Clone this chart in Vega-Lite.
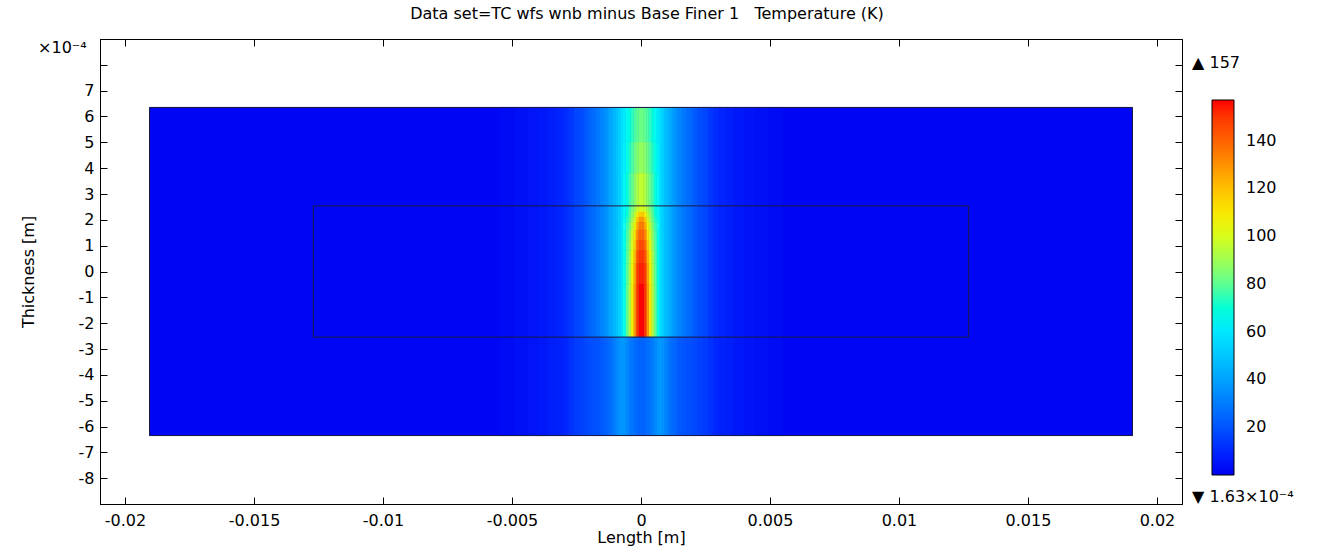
{
  "$schema": "https://vega.github.io/schema/vega-lite/v6.json",
  "width": 1082,
  "height": 465,
  "autosize": {"type": "none"},
  "padding": {"left": 100, "top": 39, "right": 138, "bottom": 44},
  "background": "white",
  "config": {
    "view": {"stroke": "black", "strokeWidth": 1},
    "font": "DejaVu Sans",
    "axis": {
      "grid": false,
      "domainColor": "black",
      "tickColor": "black",
      "labelColor": "black",
      "titleColor": "black",
      "labelFont": "DejaVu Sans",
      "titleFont": "DejaVu Sans",
      "labelFontSize": 16,
      "titleFontSize": 16,
      "titleFontWeight": "normal",
      "tickSize": -7,
      "labelOverlap": false,
      "labelFlush": false
    }
  },
  "title": {
    "text": "Data set=TC wfs wnb minus Base Finer 1\u00a0\u00a0\u00a0Temperature (K)",
    "font": "DejaVu Sans",
    "fontSize": 16,
    "fontWeight": "normal",
    "color": "black",
    "anchor": "middle",
    "offset": 17,
    "dx": 6
  },
  "datasets": {
    "cells": [
      {"x": -0.01905, "x2": 0.01905, "y": -6.35, "y2": 6.35, "t": 1},

      {"x": 0.0049, "x2": 0.0055, "y": -6.35, "y2": 6.35, "t": 2},
      {"x": 0.0044, "x2": 0.0049, "y": -6.35, "y2": 6.35, "t": 3},
      {"x": 0.004, "x2": 0.0044, "y": -6.35, "y2": 6.35, "t": 4},
      {"x": 0.0036, "x2": 0.004, "y": -6.35, "y2": 6.35, "t": 5},
      {"x": 0.0033, "x2": 0.0036, "y": -6.35, "y2": 6.35, "t": 7},
      {"x": 0.003, "x2": 0.0033, "y": -2.54, "y2": 6.35, "t": 9},
      {"x": 0.003, "x2": 0.0033, "y": -6.35, "y2": -2.54, "t": 8},
      {"x": 0.0028, "x2": 0.003, "y": -2.54, "y2": 6.35, "t": 11},
      {"x": 0.0028, "x2": 0.003, "y": -6.35, "y2": -2.54, "t": 10},
      {"x": 0.0026, "x2": 0.0028, "y": -2.54, "y2": 6.35, "t": 13},
      {"x": 0.0026, "x2": 0.0028, "y": -6.35, "y2": -2.54, "t": 12},
      {"x": 0.0024, "x2": 0.0026, "y": -2.54, "y2": 6.35, "t": 16},
      {"x": 0.0024, "x2": 0.0026, "y": -6.35, "y2": -2.54, "t": 14},
      {"x": 0.0022, "x2": 0.0024, "y": -2.54, "y2": 6.35, "t": 18},
      {"x": 0.0022, "x2": 0.0024, "y": -6.35, "y2": -2.54, "t": 15},
      {"x": 0.00205, "x2": 0.0022, "y": -2.54, "y2": 6.35, "t": 21},
      {"x": 0.00205, "x2": 0.0022, "y": -6.35, "y2": -2.54, "t": 17},
      {"x": 0.0019, "x2": 0.00205, "y": -2.54, "y2": 6.35, "t": 24},
      {"x": 0.0019, "x2": 0.00205, "y": -6.35, "y2": -2.54, "t": 18},
      {"x": 0.00175, "x2": 0.0019, "y": -2.54, "y2": 6.35, "t": 26},
      {"x": 0.00175, "x2": 0.0019, "y": -6.35, "y2": -2.54, "t": 19},
      {"x": 0.0016, "x2": 0.00175, "y": -2.54, "y2": 6.35, "t": 29},
      {"x": 0.0016, "x2": 0.00175, "y": -6.35, "y2": -2.54, "t": 20},
      {"x": 0.0015, "x2": 0.0016, "y": -2.54, "y2": 6.35, "t": 32},
      {"x": 0.0015, "x2": 0.0016, "y": -6.35, "y2": -2.54, "t": 21},
      {"x": 0.0014, "x2": 0.0015, "y": -2.54, "y2": 6.35, "t": 34},
      {"x": 0.0014, "x2": 0.0015, "y": -6.35, "y2": -2.54, "t": 22},
      {"x": 0.0013, "x2": 0.0014, "y": -2.54, "y2": 6.35, "t": 36},
      {"x": 0.0013, "x2": 0.0014, "y": -6.35, "y2": -2.54, "t": 24},
      {"x": 0.0012, "x2": 0.0013, "y": -2.54, "y2": 6.35, "t": 39},
      {"x": 0.0012, "x2": 0.0013, "y": -6.35, "y2": -2.54, "t": 25},
      {"x": 0.0011, "x2": 0.0012, "y": -2.54, "y2": 6.35, "t": 42},
      {"x": 0.0011, "x2": 0.0012, "y": -6.35, "y2": -2.54, "t": 27},
      {"x": 0.001, "x2": 0.0011, "y": -2.54, "y2": 6.35, "t": 46},
      {"x": 0.001, "x2": 0.0011, "y": -6.35, "y2": -2.54, "t": 30},
      {"x": 0.0009, "x2": 0.001, "y": -2.54, "y2": 6.35, "t": 49},
      {"x": 0.0009, "x2": 0.001, "y": -6.35, "y2": -2.54, "t": 33},
      {"x": 0.0008, "x2": 0.0009, "y": -2.54, "y2": 6.35, "t": 53},
      {"x": 0.0008, "x2": 0.0009, "y": -6.35, "y2": -2.54, "t": 36},
      {"x": 0.0007, "x2": 0.0008, "y": -2.54, "y2": 6.35, "t": 58},
      {"x": 0.0007, "x2": 0.0008, "y": -6.35, "y2": -2.54, "t": 38},

      {"x": -0.0055, "x2": -0.0049, "y": -6.35, "y2": 6.35, "t": 2},
      {"x": -0.0049, "x2": -0.0044, "y": -6.35, "y2": 6.35, "t": 3},
      {"x": -0.0044, "x2": -0.004, "y": -6.35, "y2": 6.35, "t": 4},
      {"x": -0.004, "x2": -0.0036, "y": -6.35, "y2": 6.35, "t": 5},
      {"x": -0.0036, "x2": -0.0033, "y": -6.35, "y2": 6.35, "t": 7},
      {"x": -0.0033, "x2": -0.003, "y": -2.54, "y2": 6.35, "t": 9},
      {"x": -0.0033, "x2": -0.003, "y": -6.35, "y2": -2.54, "t": 8},
      {"x": -0.003, "x2": -0.0028, "y": -2.54, "y2": 6.35, "t": 11},
      {"x": -0.003, "x2": -0.0028, "y": -6.35, "y2": -2.54, "t": 10},
      {"x": -0.0028, "x2": -0.0026, "y": -2.54, "y2": 6.35, "t": 13},
      {"x": -0.0028, "x2": -0.0026, "y": -6.35, "y2": -2.54, "t": 12},
      {"x": -0.0026, "x2": -0.0024, "y": -2.54, "y2": 6.35, "t": 16},
      {"x": -0.0026, "x2": -0.0024, "y": -6.35, "y2": -2.54, "t": 14},
      {"x": -0.0024, "x2": -0.0022, "y": -2.54, "y2": 6.35, "t": 18},
      {"x": -0.0024, "x2": -0.0022, "y": -6.35, "y2": -2.54, "t": 15},
      {"x": -0.0022, "x2": -0.00205, "y": -2.54, "y2": 6.35, "t": 21},
      {"x": -0.0022, "x2": -0.00205, "y": -6.35, "y2": -2.54, "t": 17},
      {"x": -0.00205, "x2": -0.0019, "y": -2.54, "y2": 6.35, "t": 24},
      {"x": -0.00205, "x2": -0.0019, "y": -6.35, "y2": -2.54, "t": 18},
      {"x": -0.0019, "x2": -0.00175, "y": -2.54, "y2": 6.35, "t": 26},
      {"x": -0.0019, "x2": -0.00175, "y": -6.35, "y2": -2.54, "t": 19},
      {"x": -0.00175, "x2": -0.0016, "y": -2.54, "y2": 6.35, "t": 29},
      {"x": -0.00175, "x2": -0.0016, "y": -6.35, "y2": -2.54, "t": 20},
      {"x": -0.0016, "x2": -0.0015, "y": -2.54, "y2": 6.35, "t": 32},
      {"x": -0.0016, "x2": -0.0015, "y": -6.35, "y2": -2.54, "t": 21},
      {"x": -0.0015, "x2": -0.0014, "y": -2.54, "y2": 6.35, "t": 34},
      {"x": -0.0015, "x2": -0.0014, "y": -6.35, "y2": -2.54, "t": 22},
      {"x": -0.0014, "x2": -0.0013, "y": -2.54, "y2": 6.35, "t": 36},
      {"x": -0.0014, "x2": -0.0013, "y": -6.35, "y2": -2.54, "t": 24},
      {"x": -0.0013, "x2": -0.0012, "y": -2.54, "y2": 6.35, "t": 39},
      {"x": -0.0013, "x2": -0.0012, "y": -6.35, "y2": -2.54, "t": 25},
      {"x": -0.0012, "x2": -0.0011, "y": -2.54, "y2": 6.35, "t": 42},
      {"x": -0.0012, "x2": -0.0011, "y": -6.35, "y2": -2.54, "t": 27},
      {"x": -0.0011, "x2": -0.001, "y": -2.54, "y2": 6.35, "t": 46},
      {"x": -0.0011, "x2": -0.001, "y": -6.35, "y2": -2.54, "t": 30},
      {"x": -0.001, "x2": -0.0009, "y": -2.54, "y2": 6.35, "t": 49},
      {"x": -0.001, "x2": -0.0009, "y": -6.35, "y2": -2.54, "t": 33},
      {"x": -0.0009, "x2": -0.0008, "y": -2.54, "y2": 6.35, "t": 53},
      {"x": -0.0009, "x2": -0.0008, "y": -6.35, "y2": -2.54, "t": 36},
      {"x": -0.0008, "x2": -0.0007, "y": -2.54, "y2": 6.35, "t": 58},
      {"x": -0.0008, "x2": -0.0007, "y": -6.35, "y2": -2.54, "t": 38},

      {"x": 0.0006, "x2": 0.0007, "y": 5, "y2": 6.35, "t": 61},
      {"x": 0.0006, "x2": 0.0007, "y": 3.8, "y2": 5, "t": 62},
      {"x": 0.0006, "x2": 0.0007, "y": 2.54, "y2": 3.8, "t": 64},
      {"x": 0.0006, "x2": 0.0007, "y": 2.3, "y2": 2.54, "t": 64},
      {"x": 0.0006, "x2": 0.0007, "y": 2.1, "y2": 2.3, "t": 64},
      {"x": 0.0006, "x2": 0.0007, "y": 1.9, "y2": 2.1, "t": 65},
      {"x": 0.0006, "x2": 0.0007, "y": 1.6, "y2": 1.9, "t": 66},
      {"x": 0.0006, "x2": 0.0007, "y": 1.2, "y2": 1.6, "t": 67},
      {"x": 0.0006, "x2": 0.0007, "y": 0.8, "y2": 1.2, "t": 67},
      {"x": 0.0006, "x2": 0.0007, "y": 0.3, "y2": 0.8, "t": 68},
      {"x": 0.0006, "x2": 0.0007, "y": -0.5, "y2": 0.3, "t": 68},
      {"x": 0.0006, "x2": 0.0007, "y": -2.54, "y2": -0.5, "t": 68},
      {"x": 0.0006, "x2": 0.0007, "y": -6.35, "y2": -2.54, "t": 37},

      {"x": 0.0005, "x2": 0.0006, "y": 5, "y2": 6.35, "t": 65},
      {"x": 0.0005, "x2": 0.0006, "y": 3.8, "y2": 5, "t": 67},
      {"x": 0.0005, "x2": 0.0006, "y": 2.54, "y2": 3.8, "t": 69},
      {"x": 0.0005, "x2": 0.0006, "y": 2.3, "y2": 2.54, "t": 69},
      {"x": 0.0005, "x2": 0.0006, "y": 2.1, "y2": 2.3, "t": 70},
      {"x": 0.0005, "x2": 0.0006, "y": 1.9, "y2": 2.1, "t": 72},
      {"x": 0.0005, "x2": 0.0006, "y": 1.6, "y2": 1.9, "t": 74},
      {"x": 0.0005, "x2": 0.0006, "y": 1.2, "y2": 1.6, "t": 76},
      {"x": 0.0005, "x2": 0.0006, "y": 0.8, "y2": 1.2, "t": 77},
      {"x": 0.0005, "x2": 0.0006, "y": 0.3, "y2": 0.8, "t": 78},
      {"x": 0.0005, "x2": 0.0006, "y": -0.5, "y2": 0.3, "t": 79},
      {"x": 0.0005, "x2": 0.0006, "y": -2.54, "y2": -0.5, "t": 80},
      {"x": 0.0005, "x2": 0.0006, "y": -6.35, "y2": -2.54, "t": 34},

      {"x": 0.0004, "x2": 0.0005, "y": 5, "y2": 6.35, "t": 69},
      {"x": 0.0004, "x2": 0.0005, "y": 3.8, "y2": 5, "t": 72},
      {"x": 0.0004, "x2": 0.0005, "y": 2.54, "y2": 3.8, "t": 75},
      {"x": 0.0004, "x2": 0.0005, "y": 2.3, "y2": 2.54, "t": 76},
      {"x": 0.0004, "x2": 0.0005, "y": 2.1, "y2": 2.3, "t": 78},
      {"x": 0.0004, "x2": 0.0005, "y": 1.9, "y2": 2.1, "t": 80},
      {"x": 0.0004, "x2": 0.0005, "y": 1.6, "y2": 1.9, "t": 83},
      {"x": 0.0004, "x2": 0.0005, "y": 1.2, "y2": 1.6, "t": 86},
      {"x": 0.0004, "x2": 0.0005, "y": 0.8, "y2": 1.2, "t": 88},
      {"x": 0.0004, "x2": 0.0005, "y": 0.3, "y2": 0.8, "t": 90},
      {"x": 0.0004, "x2": 0.0005, "y": -0.5, "y2": 0.3, "t": 91},
      {"x": 0.0004, "x2": 0.0005, "y": -2.54, "y2": -0.5, "t": 92},
      {"x": 0.0004, "x2": 0.0005, "y": -6.35, "y2": -2.54, "t": 31},

      {"x": 0.0003, "x2": 0.0004, "y": 5, "y2": 6.35, "t": 73},
      {"x": 0.0003, "x2": 0.0004, "y": 3.8, "y2": 5, "t": 77},
      {"x": 0.0003, "x2": 0.0004, "y": 2.54, "y2": 3.8, "t": 81},
      {"x": 0.0003, "x2": 0.0004, "y": 2.3, "y2": 2.54, "t": 84},
      {"x": 0.0003, "x2": 0.0004, "y": 2.1, "y2": 2.3, "t": 87},
      {"x": 0.0003, "x2": 0.0004, "y": 1.9, "y2": 2.1, "t": 90},
      {"x": 0.0003, "x2": 0.0004, "y": 1.6, "y2": 1.9, "t": 94},
      {"x": 0.0003, "x2": 0.0004, "y": 1.2, "y2": 1.6, "t": 98},
      {"x": 0.0003, "x2": 0.0004, "y": 0.8, "y2": 1.2, "t": 101},
      {"x": 0.0003, "x2": 0.0004, "y": 0.3, "y2": 0.8, "t": 104},
      {"x": 0.0003, "x2": 0.0004, "y": -0.5, "y2": 0.3, "t": 106},
      {"x": 0.0003, "x2": 0.0004, "y": -2.54, "y2": -0.5, "t": 108},
      {"x": 0.0003, "x2": 0.0004, "y": -6.35, "y2": -2.54, "t": 29},

      {"x": 0.0002, "x2": 0.0003, "y": 5, "y2": 6.35, "t": 77},
      {"x": 0.0002, "x2": 0.0003, "y": 3.8, "y2": 5, "t": 82},
      {"x": 0.0002, "x2": 0.0003, "y": 2.54, "y2": 3.8, "t": 87},
      {"x": 0.0002, "x2": 0.0003, "y": 2.3, "y2": 2.54, "t": 90},
      {"x": 0.0002, "x2": 0.0003, "y": 2.1, "y2": 2.3, "t": 95},
      {"x": 0.0002, "x2": 0.0003, "y": 1.9, "y2": 2.1, "t": 100},
      {"x": 0.0002, "x2": 0.0003, "y": 1.6, "y2": 1.9, "t": 106},
      {"x": 0.0002, "x2": 0.0003, "y": 1.2, "y2": 1.6, "t": 112},
      {"x": 0.0002, "x2": 0.0003, "y": 0.8, "y2": 1.2, "t": 117},
      {"x": 0.0002, "x2": 0.0003, "y": 0.3, "y2": 0.8, "t": 121},
      {"x": 0.0002, "x2": 0.0003, "y": -0.5, "y2": 0.3, "t": 125},
      {"x": 0.0002, "x2": 0.0003, "y": -2.54, "y2": -0.5, "t": 128},
      {"x": 0.0002, "x2": 0.0003, "y": -6.35, "y2": -2.54, "t": 27},

      {"x": 0.0001, "x2": 0.0002, "y": 5, "y2": 6.35, "t": 80},
      {"x": 0.0001, "x2": 0.0002, "y": 3.8, "y2": 5, "t": 86},
      {"x": 0.0001, "x2": 0.0002, "y": 2.54, "y2": 3.8, "t": 92},
      {"x": 0.0001, "x2": 0.0002, "y": 2.3, "y2": 2.54, "t": 97},
      {"x": 0.0001, "x2": 0.0002, "y": 2.1, "y2": 2.3, "t": 108},
      {"x": 0.0001, "x2": 0.0002, "y": 1.9, "y2": 2.1, "t": 118},
      {"x": 0.0001, "x2": 0.0002, "y": 1.6, "y2": 1.9, "t": 125},
      {"x": 0.0001, "x2": 0.0002, "y": 1.2, "y2": 1.6, "t": 132},
      {"x": 0.0001, "x2": 0.0002, "y": 0.8, "y2": 1.2, "t": 138},
      {"x": 0.0001, "x2": 0.0002, "y": 0.3, "y2": 0.8, "t": 143},
      {"x": 0.0001, "x2": 0.0002, "y": -0.5, "y2": 0.3, "t": 148},
      {"x": 0.0001, "x2": 0.0002, "y": -2.54, "y2": -0.5, "t": 150},
      {"x": 0.0001, "x2": 0.0002, "y": -6.35, "y2": -2.54, "t": 25},

      {"x": 0, "x2": 0.0001, "y": 5, "y2": 6.35, "t": 82},
      {"x": 0, "x2": 0.0001, "y": 3.8, "y2": 5, "t": 88},
      {"x": 0, "x2": 0.0001, "y": 2.54, "y2": 3.8, "t": 95},
      {"x": 0, "x2": 0.0001, "y": 2.3, "y2": 2.54, "t": 100},
      {"x": 0, "x2": 0.0001, "y": 2.1, "y2": 2.3, "t": 118},
      {"x": 0, "x2": 0.0001, "y": 1.9, "y2": 2.1, "t": 128},
      {"x": 0, "x2": 0.0001, "y": 1.6, "y2": 1.9, "t": 135},
      {"x": 0, "x2": 0.0001, "y": 1.2, "y2": 1.6, "t": 140},
      {"x": 0, "x2": 0.0001, "y": 0.8, "y2": 1.2, "t": 145},
      {"x": 0, "x2": 0.0001, "y": 0.3, "y2": 0.8, "t": 150},
      {"x": 0, "x2": 0.0001, "y": -0.5, "y2": 0.3, "t": 154},
      {"x": 0, "x2": 0.0001, "y": -2.54, "y2": -0.5, "t": 157},
      {"x": 0, "x2": 0.0001, "y": -6.35, "y2": -2.54, "t": 24},

      {"x": -0.0001, "x2": 0, "y": 5, "y2": 6.35, "t": 82},
      {"x": -0.0001, "x2": 0, "y": 3.8, "y2": 5, "t": 88},
      {"x": -0.0001, "x2": 0, "y": 2.54, "y2": 3.8, "t": 95},
      {"x": -0.0001, "x2": 0, "y": 2.3, "y2": 2.54, "t": 100},
      {"x": -0.0001, "x2": 0, "y": 2.1, "y2": 2.3, "t": 118},
      {"x": -0.0001, "x2": 0, "y": 1.9, "y2": 2.1, "t": 128},
      {"x": -0.0001, "x2": 0, "y": 1.6, "y2": 1.9, "t": 135},
      {"x": -0.0001, "x2": 0, "y": 1.2, "y2": 1.6, "t": 140},
      {"x": -0.0001, "x2": 0, "y": 0.8, "y2": 1.2, "t": 145},
      {"x": -0.0001, "x2": 0, "y": 0.3, "y2": 0.8, "t": 150},
      {"x": -0.0001, "x2": 0, "y": -0.5, "y2": 0.3, "t": 154},
      {"x": -0.0001, "x2": 0, "y": -2.54, "y2": -0.5, "t": 157},
      {"x": -0.0001, "x2": 0, "y": -6.35, "y2": -2.54, "t": 24},

      {"x": -0.0002, "x2": -0.0001, "y": 5, "y2": 6.35, "t": 80},
      {"x": -0.0002, "x2": -0.0001, "y": 3.8, "y2": 5, "t": 86},
      {"x": -0.0002, "x2": -0.0001, "y": 2.54, "y2": 3.8, "t": 92},
      {"x": -0.0002, "x2": -0.0001, "y": 2.3, "y2": 2.54, "t": 97},
      {"x": -0.0002, "x2": -0.0001, "y": 2.1, "y2": 2.3, "t": 108},
      {"x": -0.0002, "x2": -0.0001, "y": 1.9, "y2": 2.1, "t": 118},
      {"x": -0.0002, "x2": -0.0001, "y": 1.6, "y2": 1.9, "t": 125},
      {"x": -0.0002, "x2": -0.0001, "y": 1.2, "y2": 1.6, "t": 132},
      {"x": -0.0002, "x2": -0.0001, "y": 0.8, "y2": 1.2, "t": 138},
      {"x": -0.0002, "x2": -0.0001, "y": 0.3, "y2": 0.8, "t": 143},
      {"x": -0.0002, "x2": -0.0001, "y": -0.5, "y2": 0.3, "t": 148},
      {"x": -0.0002, "x2": -0.0001, "y": -2.54, "y2": -0.5, "t": 150},
      {"x": -0.0002, "x2": -0.0001, "y": -6.35, "y2": -2.54, "t": 25},

      {"x": -0.0003, "x2": -0.0002, "y": 5, "y2": 6.35, "t": 77},
      {"x": -0.0003, "x2": -0.0002, "y": 3.8, "y2": 5, "t": 82},
      {"x": -0.0003, "x2": -0.0002, "y": 2.54, "y2": 3.8, "t": 87},
      {"x": -0.0003, "x2": -0.0002, "y": 2.3, "y2": 2.54, "t": 90},
      {"x": -0.0003, "x2": -0.0002, "y": 2.1, "y2": 2.3, "t": 95},
      {"x": -0.0003, "x2": -0.0002, "y": 1.9, "y2": 2.1, "t": 100},
      {"x": -0.0003, "x2": -0.0002, "y": 1.6, "y2": 1.9, "t": 106},
      {"x": -0.0003, "x2": -0.0002, "y": 1.2, "y2": 1.6, "t": 112},
      {"x": -0.0003, "x2": -0.0002, "y": 0.8, "y2": 1.2, "t": 117},
      {"x": -0.0003, "x2": -0.0002, "y": 0.3, "y2": 0.8, "t": 121},
      {"x": -0.0003, "x2": -0.0002, "y": -0.5, "y2": 0.3, "t": 125},
      {"x": -0.0003, "x2": -0.0002, "y": -2.54, "y2": -0.5, "t": 128},
      {"x": -0.0003, "x2": -0.0002, "y": -6.35, "y2": -2.54, "t": 27},

      {"x": -0.0004, "x2": -0.0003, "y": 5, "y2": 6.35, "t": 73},
      {"x": -0.0004, "x2": -0.0003, "y": 3.8, "y2": 5, "t": 77},
      {"x": -0.0004, "x2": -0.0003, "y": 2.54, "y2": 3.8, "t": 81},
      {"x": -0.0004, "x2": -0.0003, "y": 2.3, "y2": 2.54, "t": 84},
      {"x": -0.0004, "x2": -0.0003, "y": 2.1, "y2": 2.3, "t": 87},
      {"x": -0.0004, "x2": -0.0003, "y": 1.9, "y2": 2.1, "t": 90},
      {"x": -0.0004, "x2": -0.0003, "y": 1.6, "y2": 1.9, "t": 94},
      {"x": -0.0004, "x2": -0.0003, "y": 1.2, "y2": 1.6, "t": 98},
      {"x": -0.0004, "x2": -0.0003, "y": 0.8, "y2": 1.2, "t": 101},
      {"x": -0.0004, "x2": -0.0003, "y": 0.3, "y2": 0.8, "t": 104},
      {"x": -0.0004, "x2": -0.0003, "y": -0.5, "y2": 0.3, "t": 106},
      {"x": -0.0004, "x2": -0.0003, "y": -2.54, "y2": -0.5, "t": 108},
      {"x": -0.0004, "x2": -0.0003, "y": -6.35, "y2": -2.54, "t": 29},

      {"x": -0.0005, "x2": -0.0004, "y": 5, "y2": 6.35, "t": 69},
      {"x": -0.0005, "x2": -0.0004, "y": 3.8, "y2": 5, "t": 72},
      {"x": -0.0005, "x2": -0.0004, "y": 2.54, "y2": 3.8, "t": 75},
      {"x": -0.0005, "x2": -0.0004, "y": 2.3, "y2": 2.54, "t": 76},
      {"x": -0.0005, "x2": -0.0004, "y": 2.1, "y2": 2.3, "t": 78},
      {"x": -0.0005, "x2": -0.0004, "y": 1.9, "y2": 2.1, "t": 80},
      {"x": -0.0005, "x2": -0.0004, "y": 1.6, "y2": 1.9, "t": 83},
      {"x": -0.0005, "x2": -0.0004, "y": 1.2, "y2": 1.6, "t": 86},
      {"x": -0.0005, "x2": -0.0004, "y": 0.8, "y2": 1.2, "t": 88},
      {"x": -0.0005, "x2": -0.0004, "y": 0.3, "y2": 0.8, "t": 90},
      {"x": -0.0005, "x2": -0.0004, "y": -0.5, "y2": 0.3, "t": 91},
      {"x": -0.0005, "x2": -0.0004, "y": -2.54, "y2": -0.5, "t": 92},
      {"x": -0.0005, "x2": -0.0004, "y": -6.35, "y2": -2.54, "t": 31},

      {"x": -0.0006, "x2": -0.0005, "y": 5, "y2": 6.35, "t": 65},
      {"x": -0.0006, "x2": -0.0005, "y": 3.8, "y2": 5, "t": 67},
      {"x": -0.0006, "x2": -0.0005, "y": 2.54, "y2": 3.8, "t": 69},
      {"x": -0.0006, "x2": -0.0005, "y": 2.3, "y2": 2.54, "t": 69},
      {"x": -0.0006, "x2": -0.0005, "y": 2.1, "y2": 2.3, "t": 70},
      {"x": -0.0006, "x2": -0.0005, "y": 1.9, "y2": 2.1, "t": 72},
      {"x": -0.0006, "x2": -0.0005, "y": 1.6, "y2": 1.9, "t": 74},
      {"x": -0.0006, "x2": -0.0005, "y": 1.2, "y2": 1.6, "t": 76},
      {"x": -0.0006, "x2": -0.0005, "y": 0.8, "y2": 1.2, "t": 77},
      {"x": -0.0006, "x2": -0.0005, "y": 0.3, "y2": 0.8, "t": 78},
      {"x": -0.0006, "x2": -0.0005, "y": -0.5, "y2": 0.3, "t": 79},
      {"x": -0.0006, "x2": -0.0005, "y": -2.54, "y2": -0.5, "t": 80},
      {"x": -0.0006, "x2": -0.0005, "y": -6.35, "y2": -2.54, "t": 34},

      {"x": -0.0007, "x2": -0.0006, "y": 5, "y2": 6.35, "t": 61},
      {"x": -0.0007, "x2": -0.0006, "y": 3.8, "y2": 5, "t": 62},
      {"x": -0.0007, "x2": -0.0006, "y": 2.54, "y2": 3.8, "t": 64},
      {"x": -0.0007, "x2": -0.0006, "y": 2.3, "y2": 2.54, "t": 64},
      {"x": -0.0007, "x2": -0.0006, "y": 2.1, "y2": 2.3, "t": 64},
      {"x": -0.0007, "x2": -0.0006, "y": 1.9, "y2": 2.1, "t": 65},
      {"x": -0.0007, "x2": -0.0006, "y": 1.6, "y2": 1.9, "t": 66},
      {"x": -0.0007, "x2": -0.0006, "y": 1.2, "y2": 1.6, "t": 67},
      {"x": -0.0007, "x2": -0.0006, "y": 0.8, "y2": 1.2, "t": 67},
      {"x": -0.0007, "x2": -0.0006, "y": 0.3, "y2": 0.8, "t": 68},
      {"x": -0.0007, "x2": -0.0006, "y": -0.5, "y2": 0.3, "t": 68},
      {"x": -0.0007, "x2": -0.0006, "y": -2.54, "y2": -0.5, "t": 68},
      {"x": -0.0007, "x2": -0.0006, "y": -6.35, "y2": -2.54, "t": 37}
    ],
    "outlines": [
      {"x": -0.01905, "x2": 0.01905, "y": -6.35, "y2": 6.35},
      {"x": -0.0127, "x2": 0.0127, "y": -2.54, "y2": 2.54}
    ],
    "labels": [
      {"x": -0.02337, "y": 8.66, "label": "×10⁻⁴"},
      {"x": 0.02136, "y": 8.08, "label": "▲ 157"},
      {"x": 0.02136, "y": -8.72, "label": "▼ 1.63×10⁻⁴"}
    ]
  },
  "layer": [
    {
      "data": {"name": "cells"},
      "mark": {"type": "rect", "strokeWidth": 0.6, "stroke": {"expr": "scale('color', datum.t)"}},
      "encoding": {
        "x": {
          "field": "x", "type": "quantitative",
          "scale": {"domain": [-0.02097, 0.02097], "nice": false, "zero": false},
          "axis": {
            "orient": "bottom",
            "values": [-0.02, -0.015, -0.01, -0.005, 0, 0.005, 0.01, 0.015, 0.02],
            "labelExpr": "'' + datum.value",
            "labelPadding": 15,
            "title": "Length [m]",
            "titlePadding": 1
          }
        },
        "x2": {"field": "x2"},
        "y": {
          "field": "y", "type": "quantitative",
          "scale": {"domain": [-9, 9], "nice": false, "zero": false},
          "axis": {
            "orient": "left",
            "values": [-8, -7, -6, -5, -4, -3, -2, -1, 0, 1, 2, 3, 4, 5, 6, 7, 8],
            "labelExpr": "datum.value == 8 ? '' : '' + datum.value",
            "labelPadding": 13,
            "title": "Thickness [m]",
            "titlePadding": 42
          }
        },
        "y2": {"field": "y2"},
        "color": {
          "field": "t", "type": "quantitative",
          "scale": {
            "domain": [0, 10, 20, 30, 40, 50, 60, 66, 75, 85, 95, 105, 115, 125, 135, 145, 157],
            "range": ["#0000f2", "#0026ff", "#0054ff", "#007cff", "#00a2ff", "#00c6ff", "#00e8ff", "#10fff0", "#40ffb0", "#80ff70", "#c0ff30", "#f0f800", "#ffd800", "#ffa800", "#ff7800", "#ff4800", "#ff0000"],
            "nice": false
          },
          "legend": {
            "type": "gradient",
            "orient": "none",
            "legendX": 1112,
            "legendY": 61,
            "direction": "vertical",
            "gradientLength": 375,
            "gradientThickness": 22,
            "gradientStrokeColor": "black",
            "gradientStrokeWidth": 1,
            "values": [20, 40, 60, 80, 100, 120, 140],
            "labelFontSize": 16,
            "labelFont": "DejaVu Sans",
            "labelColor": "black",
            "labelOffset": 12,
            "labelOverlap": false,
            "title": null,
            "padding": 0,
            "offset": 0
          }
        }
      }
    },
    {
      "data": {"name": "outlines"},
      "mark": {"type": "rect", "filled": false, "stroke": "#1a1a40", "strokeWidth": 1},
      "encoding": {
        "x": {
          "field": "x", "type": "quantitative",
          "axis": {
            "orient": "top",
            "values": [-0.02, -0.015, -0.01, -0.005, 0, 0.005, 0.01, 0.015, 0.02],
            "labels": false,
            "title": null
          }
        },
        "x2": {"field": "x2"},
        "y": {
          "field": "y", "type": "quantitative",
          "axis": {
            "orient": "right",
            "values": [-8, -7, -6, -5, -4, -3, -2, -1, 0, 1, 2, 3, 4, 5, 6, 7, 8],
            "labels": false,
            "title": null
          }
        },
        "y2": {"field": "y2"}
      }
    },
    {
      "data": {"name": "labels"},
      "mark": {"type": "text", "align": "left", "baseline": "middle", "fontSize": 16, "font": "DejaVu Sans", "color": "black"},
      "encoding": {
        "x": {"field": "x", "type": "quantitative", "axis": null},
        "y": {"field": "y", "type": "quantitative", "axis": null},
        "text": {"field": "label"}
      }
    }
  ],
  "resolve": {"axis": {"x": "independent", "y": "independent"}}
}
